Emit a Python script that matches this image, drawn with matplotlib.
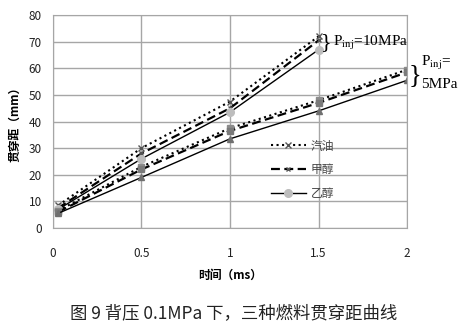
import matplotlib
import matplotlib.pyplot as plt

matplotlib.use('Agg')

plt.rcParams['font.family'] = ['Noto Sans CJK SC', 'DejaVu Sans']
plt.rcParams['axes.unicode_minus'] = False
plt.rcParams['mathtext.fontset'] = 'stix'

# === 数据 ===
t_10 = [0.03, 0.5, 1.0, 1.5]
t_5 = [0.03, 0.5, 1.0, 1.5, 2.0]

gas_10 = [8.5, 30, 47.5, 72]
meth_10 = [7.5, 28, 45, 70.5]
eth_10 = [7, 26, 43.5, 67]

gas_5 = [6.5, 23, 37.5, 48, 59.5]
meth_5 = [6, 22, 36.5, 47, 58.5]
eth_5 = [5.5, 19, 33.5, 44, 55.5]

fuel_names = ['汽油', '甲醇', '乙醇']
x_ticks = [0, 0.5, 1, 1.5, 2]
y_ticks = [0, 10, 20, 30, 40, 50, 60, 70, 80]

fig = plt.figure(figsize=(4.68, 3.28), dpi=100)
ax = fig.add_axes([0.113, 0.305, 0.757, 0.649])

# 10MPa 组
l1, = ax.plot(t_10, gas_10, color='black', linestyle=':', linewidth=1.5,
              marker='x', markersize=5, markeredgecolor='#555555', markeredgewidth=1)
l2, = ax.plot(t_10, meth_10, color='black', linestyle='--', linewidth=1.6, dashes=(4, 2),
              marker='x', markersize=3.5, markeredgecolor='#555555', markeredgewidth=1)
l3, = ax.plot(t_10, eth_10, color='black', linestyle='-', linewidth=1,
              marker='o', markersize=5.5, markerfacecolor='#bdbdbd', markeredgecolor='#bdbdbd')

# 5MPa 组
ax.plot(t_5, gas_5, color='black', linestyle=':', linewidth=1.5,
        marker='s', markersize=5, markerfacecolor='#8c8c8c', markeredgecolor='#8c8c8c')
ax.plot(t_5, meth_5, color='black', linestyle='--', linewidth=1.6, dashes=(4, 2),
        marker='s', markersize=4.5, markerfacecolor='#7a7a7a', markeredgecolor='#7a7a7a')
ax.plot(t_5, eth_5, color='black', linestyle='-', linewidth=1,
        marker='^', markersize=5, markerfacecolor='#707070', markeredgecolor='#707070')

ax.set_xlim(0, 2)
ax.set_ylim(0, 80)
ax.set_xticks(x_ticks)
ax.set_xticklabels(['0', '0.5', '1', '1.5', '2'])
ax.set_yticks(y_ticks)
ax.grid(True, color='#a6a6a6', linewidth=1)
ax.set_axisbelow(True)
for s in ax.spines.values():
    s.set_color('#a6a6a6')
ax.tick_params(length=0, labelsize=8.5, colors='#222222')
ax.tick_params(axis='x', pad=14)
ax.tick_params(axis='y', pad=8)

ax.set_xlabel('时间（ms）', fontsize=8.5, fontweight='bold', labelpad=6)
ax.set_ylabel('贯穿距（mm）', fontsize=8.5, fontweight='bold', labelpad=5)

ax.legend([l1, l2, l3], fuel_names, loc='upper left', bbox_to_anchor=(0.585, 0.465),
          frameon=False, fontsize=8.5, handlelength=3.0, labelspacing=0.9,
          handletextpad=0.4, labelcolor='#444444')

# 压力标注
serif = ['Liberation Serif', 'DejaVu Serif']
ax.text(1.515, 69.5, '}', fontsize=16, family=serif, va='center', ha='left')
ax.text(1.58, 69.5, r'P$_{\mathrm{inj}}$=10MPa', fontsize=11, family=serif, va='center', ha='left')
ax.text(2.01, 57.5, '}', fontsize=19, family=serif, va='center', ha='left', clip_on=False)
ax.text(2.08, 62, r'P$_{\mathrm{inj}}$=', fontsize=11, family=serif, va='center', ha='left', clip_on=False)
ax.text(2.08, 54, '5MPa', fontsize=11, family=serif, va='center', ha='left', clip_on=False)

fig.text(0.5, 0.045, '图 9 背压 0.1MPa 下，三种燃料贯穿距曲线', fontsize=12.5,
         ha='center', va='center', family=['Noto Sans CJK SC', 'DejaVu Sans'], color='#222222')

fig.savefig('out.png', dpi=100)
